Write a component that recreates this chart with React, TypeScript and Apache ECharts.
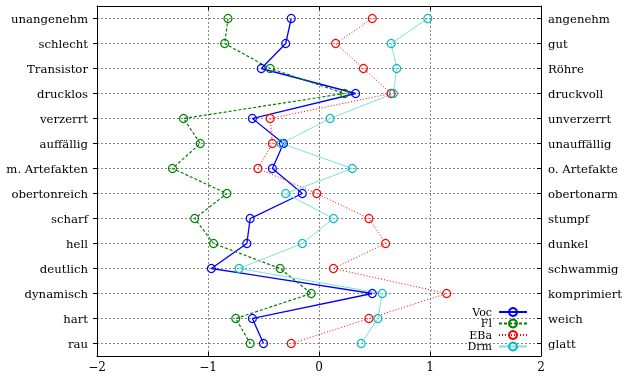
import React, { useEffect, useRef } from "react";
import * as echarts from "echarts";

const leftLabels = ["unangenehm", "schlecht", "Transistor", "drucklos", "verzerrt", "auffällig", "m. Artefakten", "obertonreich", "scharf", "hell", "deutlich", "dynamisch", "hart", "rau"];
const rightLabels = ["angenehm", "gut", "Röhre", "druckvoll", "unverzerrt", "unauffällig", "o. Artefakte", "obertonarm", "stumpf", "dunkel", "schwammig", "komprimiert", "weich", "glatt"];
const xTicks = [-2, -1, 0, 1, 2];

const voc = [-0.25, -0.3, -0.52, 0.33, -0.6, -0.32, -0.42, -0.15, -0.62, -0.65, -0.97, 0.48, -0.6, -0.5];
const fl = [-0.82, -0.85, -0.44, 0.23, -1.22, -1.07, -1.32, -0.83, -1.12, -0.95, -0.35, -0.07, -0.75, -0.62];
const eba = [0.48, 0.15, 0.4, 0.65, -0.44, -0.42, -0.55, -0.02, 0.45, 0.6, 0.13, 1.15, 0.45, -0.25];
const drm = [0.98, 0.65, 0.7, 0.67, 0.1, -0.34, 0.3, -0.3, 0.13, -0.15, -0.72, 0.57, 0.53, 0.38];

const FONT = "DejaVu Serif";

export default function App() {
  const ref = useRef<HTMLDivElement>(null);
  useEffect(() => {
    const chart = echarts.init(ref.current!, null, { renderer: "svg" });
    const mk = (name: string, vals: number[], color: string, lineColor: string, type: any, width: number) => ({
      name,
      type: "line",
      xAxisIndex: 0,
      yAxisIndex: 0,
      data: vals.map((v, i) => [v, leftLabels[i]]),
      symbol: "circle",
      symbolSize: 8,
      itemStyle: { color: "rgba(0,0,0,0)", borderColor: color, borderWidth: 1.2 },
      lineStyle: { color: lineColor, type, width },
      emphasis: { disabled: true },
    });
    chart.setOption({
      animation: false,
      textStyle: { fontFamily: FONT },
      grid: { left: 97, right: 90, top: 6, bottom: 22, show: false },
      legend: {
        orient: "vertical",
        right: 103,
        bottom: 26,
        align: "right",
        padding: 0,
        itemGap: 0.5,
        itemWidth: 28,
        itemHeight: 10,
        textStyle: { fontFamily: FONT, fontSize: 11, color: "#000", lineHeight: 10, padding: [0, 2, 0, 0] },
        data: ["Voc", "Fl", "EBa", "Drm"],
      },
      xAxis: [
        {
          type: "value",
          min: -2,
          max: 2,
          interval: 1,
          position: "bottom",
          axisLine: { show: true, onZero: false, lineStyle: { color: "#000", width: 1 } },
          axisTick: { show: true, inside: true, length: 4, lineStyle: { color: "#000" } },
          axisLabel: {
            color: "#000",
            fontFamily: FONT,
            fontSize: 12,
            margin: 5,
            formatter: (v: number) => (xTicks.includes(v) ? (v < 0 ? "\u2212" + Math.abs(v) : String(v)) : ""),
          },
          splitLine: { show: true, lineStyle: { color: "#888", type: [2, 2], width: 1 } },
        },
        {
          type: "value",
          min: -2,
          max: 2,
          interval: 1,
          position: "top",
          axisLine: { show: true, onZero: false, lineStyle: { color: "#000", width: 1 } },
          axisTick: { show: true, inside: true, length: 4, lineStyle: { color: "#000" } },
          axisLabel: { show: false },
          splitLine: { show: false },
        },
      ],
      yAxis: [
        {
          type: "category",
          data: leftLabels,
          inverse: true,
          position: "left",
          boundaryGap: true,
          axisLine: { show: true, onZero: false, lineStyle: { color: "#000", width: 1 } },
          axisTick: { show: true, alignWithLabel: true, length: 4, lineStyle: { color: "#000" } },
          axisLabel: { color: "#000", fontFamily: FONT, fontSize: 11.7, margin: 9 },
          splitLine: { show: true, alignWithLabel: true, lineStyle: { color: "#888", type: [2, 2], width: 1 } },
        },
        {
          type: "category",
          data: rightLabels,
          inverse: true,
          position: "right",
          boundaryGap: true,
          axisLine: { show: true, onZero: false, lineStyle: { color: "#000", width: 1 } },
          axisTick: { show: true, alignWithLabel: true, inside: true, length: 4, lineStyle: { color: "#000" } },
          axisLabel: { color: "#000", fontFamily: FONT, fontSize: 11.7, margin: 7 },
          splitLine: { show: false },
        },
      ],
      series: [
        mk("Voc", voc, "#0000ff", "#0000ff", "solid", 1.3),
        mk("Fl", fl, "#008000", "#008000", [3, 2], 1.2),
        mk("EBa", eba, "#ff0000", "#ff0000", [1, 2], 1),
        mk("Drm", drm, "#00bfbf", "#7fdfdf", "solid", 1),
      ],
    });
    return () => chart.dispose();
  }, []);
  return <div ref={ref} style={{ position: "fixed", left: 0, top: 0, width: 631, height: 378 }} />;
}
